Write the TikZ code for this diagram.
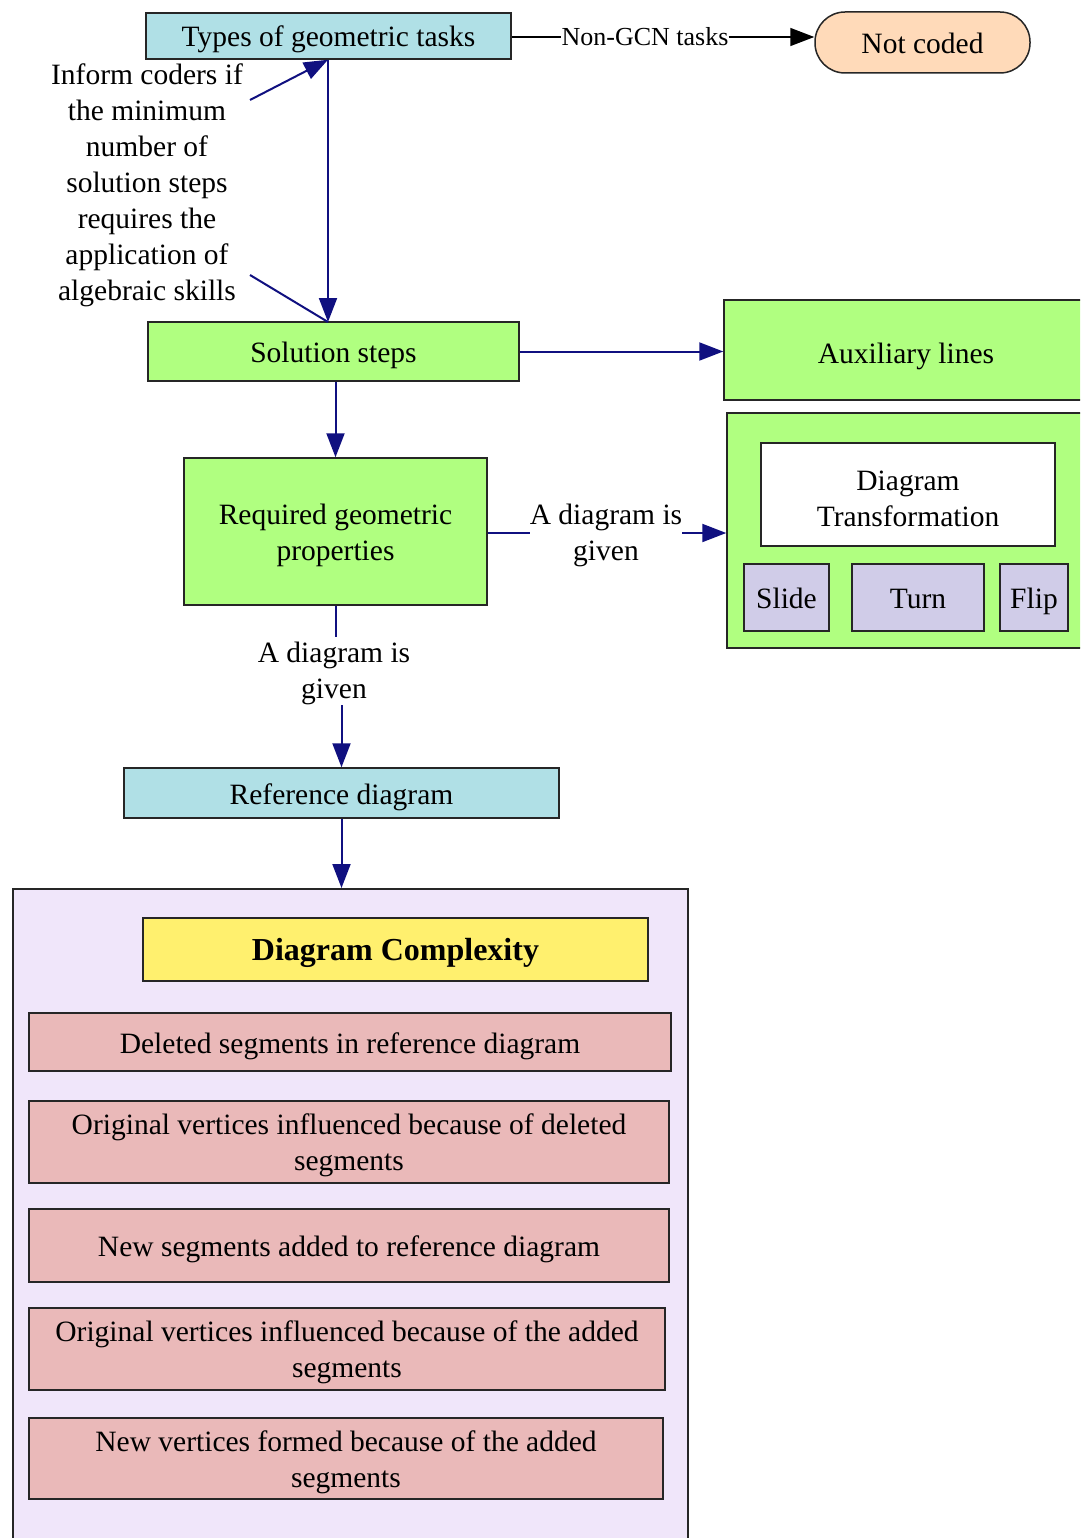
\documentclass[tikz,border=0pt]{standalone}
\usepackage{fontspec}
\setmainfont{Liberation Serif}
\usetikzlibrary{arrows.meta}
\definecolor{pblue}{RGB}{176,224,230}
\definecolor{peach}{RGB}{255,218,185}
\definecolor{lgreen}{RGB}{176,255,128}
\definecolor{lilac}{RGB}{208,204,232}
\definecolor{lav}{RGB}{240,230,250}
\definecolor{yel}{RGB}{255,240,110}
\definecolor{pinkc}{RGB}{234,185,185}
\definecolor{navyc}{RGB}{16,16,128}
\tikzset{
  box/.style={draw=black!85, line width=1.5pt, inner sep=0pt, align=center},
  sl/.style={text height=29pt, text depth=7pt},
  mltwo/.style={text height=64pt},
  lbl/.style={inner sep=0pt, align=center},
  lbltwo/.style={text height=62pt},
  edge/.style={draw=navyc, line width=2pt},
  arr/.style={edge, -{Triangle[length=24pt,width=18pt]}},
  blkarr/.style={draw=black, line width=1.6pt, -{Triangle[length=24pt,width=18pt]}},
}
\begin{document}
\begin{tikzpicture}[x=1pt,y=-1pt,font=\fontsize{29.5}{36}\selectfont]
\useasboundingbox (0,0) rectangle (1080,1538);
\clip (0,0) rectangle (1080,1538);
\fill[white] (0,0) rectangle (1080,1538);

% top row
\node[box, sl, fill=pblue, minimum width=365, minimum height=46] (types) at (328.5,36) {Types of geometric tasks};
\node[box, sl, fill=peach, minimum width=215, minimum height=61, rounded corners=30pt] (notcoded) at (922.5,42.5) {Not coded};
\node[inner sep=0pt, font=\fontsize{26}{30}\selectfont, fill=white] (ngcn) at (645,37) {Non-GCN tasks};
\draw[black, line width=1.6pt] (types.east |- ngcn) -- (ngcn.west);
\draw[blkarr] (ngcn.east) -- (notcoded.west |- ngcn);

% inform label
\node[lbl, text height=242pt] (inform) at (147,183) {Inform coders if\\the minimum\\number of\\solution steps\\requires the\\application of\\algebraic skills};
\coordinate (l1) at (250,100);
\coordinate (l2) at (250,275);

% solution steps
\node[box, sl, fill=lgreen, minimum width=371, minimum height=59] (sol) at (333.5,351.5) {Solution steps};
\coordinate (soltop) at (328,322);
\draw[arr] (types.south -| soltop) -- (soltop);
\draw[arr] (l1) -- (types.south -| soltop);
\draw[edge] (l2) -- (soltop);

% auxiliary lines
\node[box, fill=lgreen, minimum width=370, minimum height=100] (aux) at (909,350) {};
\node[lbl, sl] (auxt) at (906,352) {Auxiliary lines};
\draw[arr] (sol.east) -- (aux.west |- sol.east);

% required geometric properties
\node[box, mltwo, fill=lgreen, minimum width=303, minimum height=147] (req) at (335.5,531.5) {Required geometric\\properties};
\draw[arr] (sol.south -| req.north) -- (req.north);

% transformation cluster
\node[box, fill=lgreen, minimum width=370, minimum height=235] (trc) at (912,530.5) {};
\node[box, mltwo, fill=white, minimum width=294, minimum height=103] (dt) at (908,494.5) {Diagram\\Transformation};
\node[box, sl, fill=lilac, minimum width=85, minimum height=67] (slide) at (786.5,597.5) {Slide};
\node[box, sl, fill=lilac, minimum width=132, minimum height=67] (turn) at (918,597.5) {Turn};
\node[box, sl, fill=lilac, minimum width=68, minimum height=67] (flip) at (1034,597.5) {Flip};

\node[lbl, lbltwo] (lab1) at (606,533) {A diagram is\\given};
\draw[edge] (req.east |- lab1) -- (lab1.west);
\draw[arr] (lab1.east) -- (trc.west |- lab1);

% reference diagram
\node[lbl, lbltwo] (lab2) at (334,671) {A diagram is\\given};
\node[box, sl, fill=pblue, minimum width=435, minimum height=50] (ref) at (341.5,793) {Reference diagram};
\draw[edge] (req.south) -- (req.south |- lab2.north);
\draw[arr] (lab2.south -| ref.north) -- (ref.north);

% complexity cluster
\node[box, fill=lav, minimum width=675, minimum height=680, anchor=north west] (cx) at (12,888) {};
\draw[arr] (ref.south) -- (ref.south |- cx.north);
\node[box, sl, fill=yel, minimum width=505, minimum height=63, font=\bfseries\fontsize{32}{36}\selectfont] (dc) at (395.5,949.5) {Diagram Complexity};
\node[box, sl, fill=pinkc, minimum width=642, minimum height=58] (c1) at (350,1042) {Deleted segments in reference diagram};
\node[box, mltwo, fill=pinkc, minimum width=640, minimum height=82] (c2) at (349,1142) {Original vertices influenced because of deleted\\segments};
\node[box, sl, fill=pinkc, minimum width=640, minimum height=73] (c3) at (349,1245.5) {New segments added to reference diagram};
\node[box, mltwo, fill=pinkc, minimum width=636, minimum height=82] (c4) at (347,1349) {Original vertices influenced because of the added\\segments};
\node[box, mltwo, fill=pinkc, minimum width=634, minimum height=81] (c5) at (346,1458.5) {New vertices formed because of the added\\segments};
\end{tikzpicture}
\end{document}
